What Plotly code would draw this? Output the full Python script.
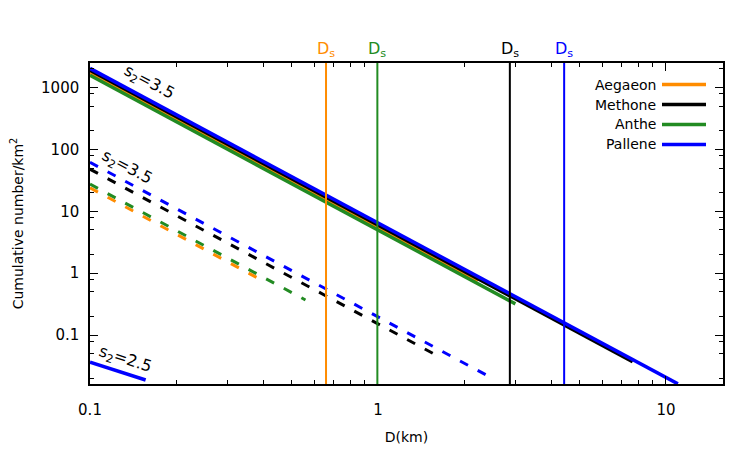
import plotly.graph_objects as go
import numpy as np

# ---- data ----
moons = ["Aegaeon", "Methone", "Anthe", "Pallene"]
colors = ["#ff8c00", "#000000", "#228b22", "#0000ff"]

# solid lines (s2 = 3.5), endpoints
solid_D = [[0.1, 2.22], [0.1, 7.66], [0.1, 3.0], [0.1, 11.0]]
solid_N = [[1740, 0.75], [1900, 0.037], [1580, 0.32], [2040, 0.0163]]

# dashed lines (s2 = 3.5), endpoints
dash_D = [[0.1, 0.38], [0.1, 1.6], [0.1, 0.56], [0.1, 2.45]]
dash_N = [[24, 0.85], [48, 0.047], [27.5, 0.37], [62, 0.021]]

# blue s2 = 2.5 line
s25_D = [0.1, 0.156]
s25_N = [0.0367, 0.0188]

# D_s values
Ds = [0.66, 2.87, 0.995, 4.43]

xticks = [0.1, 1, 10]
xtick_text = ["0.1", "1", "10"]
yticks = [0.1, 1, 10, 100, 1000]
ytick_text = ["0.1", "1", "10", "100", "1000"]

FONT = "DejaVu Sans"

fig = go.Figure()

for i, m in enumerate(moons):
    fig.add_trace(go.Scatter(x=dash_D[i], y=dash_N[i], mode="lines",
                             line=dict(color=colors[i], width=3, dash="9px,11px"),
                             showlegend=False, hoverinfo="skip"))

for i, m in enumerate(moons):
    fig.add_trace(go.Scatter(x=solid_D[i], y=solid_N[i], mode="lines", name=m,
                             line=dict(color=colors[i], width=3.5),
                             showlegend=False))

fig.add_trace(go.Scatter(x=s25_D, y=s25_N, mode="lines",
                         line=dict(color=colors[3], width=3.5), showlegend=False))

shapes = []
annotations = []
for i, d in enumerate(Ds):
    shapes.append(dict(type="line", xref="x", yref="paper", x0=d, x1=d, y0=0, y1=1,
                       line=dict(color=colors[i], width=2)))
    annotations.append(dict(x=np.log10(d), y=1, xref="x", yref="paper",
                            text="D<sub>s</sub>", showarrow=False,
                            xanchor="center", yanchor="bottom", yshift=1,
                            font=dict(family=FONT, size=16, color=colors[i])))

# manual legend (text left, sample right)
leg_y = [84.3, 104.3, 124.3, 144.3]
H = 450
top, bottom = 62.7, 384.3
left, right = 90, 723
for i, m in enumerate(moons):
    yp = (bottom - leg_y[i]) / (bottom - top)
    annotations.append(dict(x=(658 - left) / (right - left), y=yp, xref="paper", yref="paper",
                            text=m, showarrow=False, xanchor="right", yanchor="middle",
                            font=dict(family=FONT, size=14, color="black")))
    shapes.append(dict(type="line", xref="paper", yref="paper",
                       x0=(662 - left) / (right - left), x1=(706 - left) / (right - left),
                       y0=yp, y1=yp, line=dict(color=colors[i], width=3.5)))

def ann(px, py, txt, ang):
    return dict(x=(px - left) / (right - left), y=(bottom - py) / (bottom - top),
                xref="paper", yref="paper", text=txt, showarrow=False,
                textangle=ang, xanchor="center", yanchor="middle",
                font=dict(family=FONT, size=16, color="black"))

annotations.append(ann(149, 82, "s<sub>2</sub>=3.5", 28))
annotations.append(ann(127, 167, "s<sub>2</sub>=3.5", 28))
annotations.append(ann(125, 360, "s<sub>2</sub>=2.5", 18))

axis_common = dict(type="log", showgrid=False, zeroline=False, showline=True,
                   linecolor="black", linewidth=1.5, mirror="allticks",
                   ticks="inside", ticklen=8, tickwidth=1, tickcolor="black",
                   automargin=False,
                   tickfont=dict(family=FONT, size=15, color="black"))

fig.update_layout(
    width=750, height=450,
    margin=dict(l=left, r=750 - right, t=top, b=H - bottom),
    paper_bgcolor="white", plot_bgcolor="white",
    showlegend=False,
    shapes=shapes, annotations=annotations,
    xaxis=dict(**axis_common, range=[-1, 1.198], tickvals=xticks, ticktext=xtick_text,
               ticklabelstandoff=11,
               minor=dict(ticks="inside", ticklen=4, tickcolor="black",
                          tickvals=[k * 10.0 ** e for e in (-1, 0, 1) for k in range(2, 10)]),
               title=dict(text="D(km)", font=dict(family=FONT, size=14, color="black"),
                          standoff=14)),
    yaxis=dict(**axis_common, range=[-1.79, 3.397], tickvals=yticks, ticktext=ytick_text,
               ticklabelstandoff=6,
               minor=dict(ticks="inside", ticklen=4, tickcolor="black",
                          tickvals=[k * 10.0 ** e for e in (-2, -1, 0, 1, 2, 3) for k in (2, 5, 8)]),
               title=dict(text="Cumulative number/km<sup>2</sup>",
                          font=dict(family=FONT, size=14, color="black"), standoff=14)),
)

fig.write_html("out.html")
